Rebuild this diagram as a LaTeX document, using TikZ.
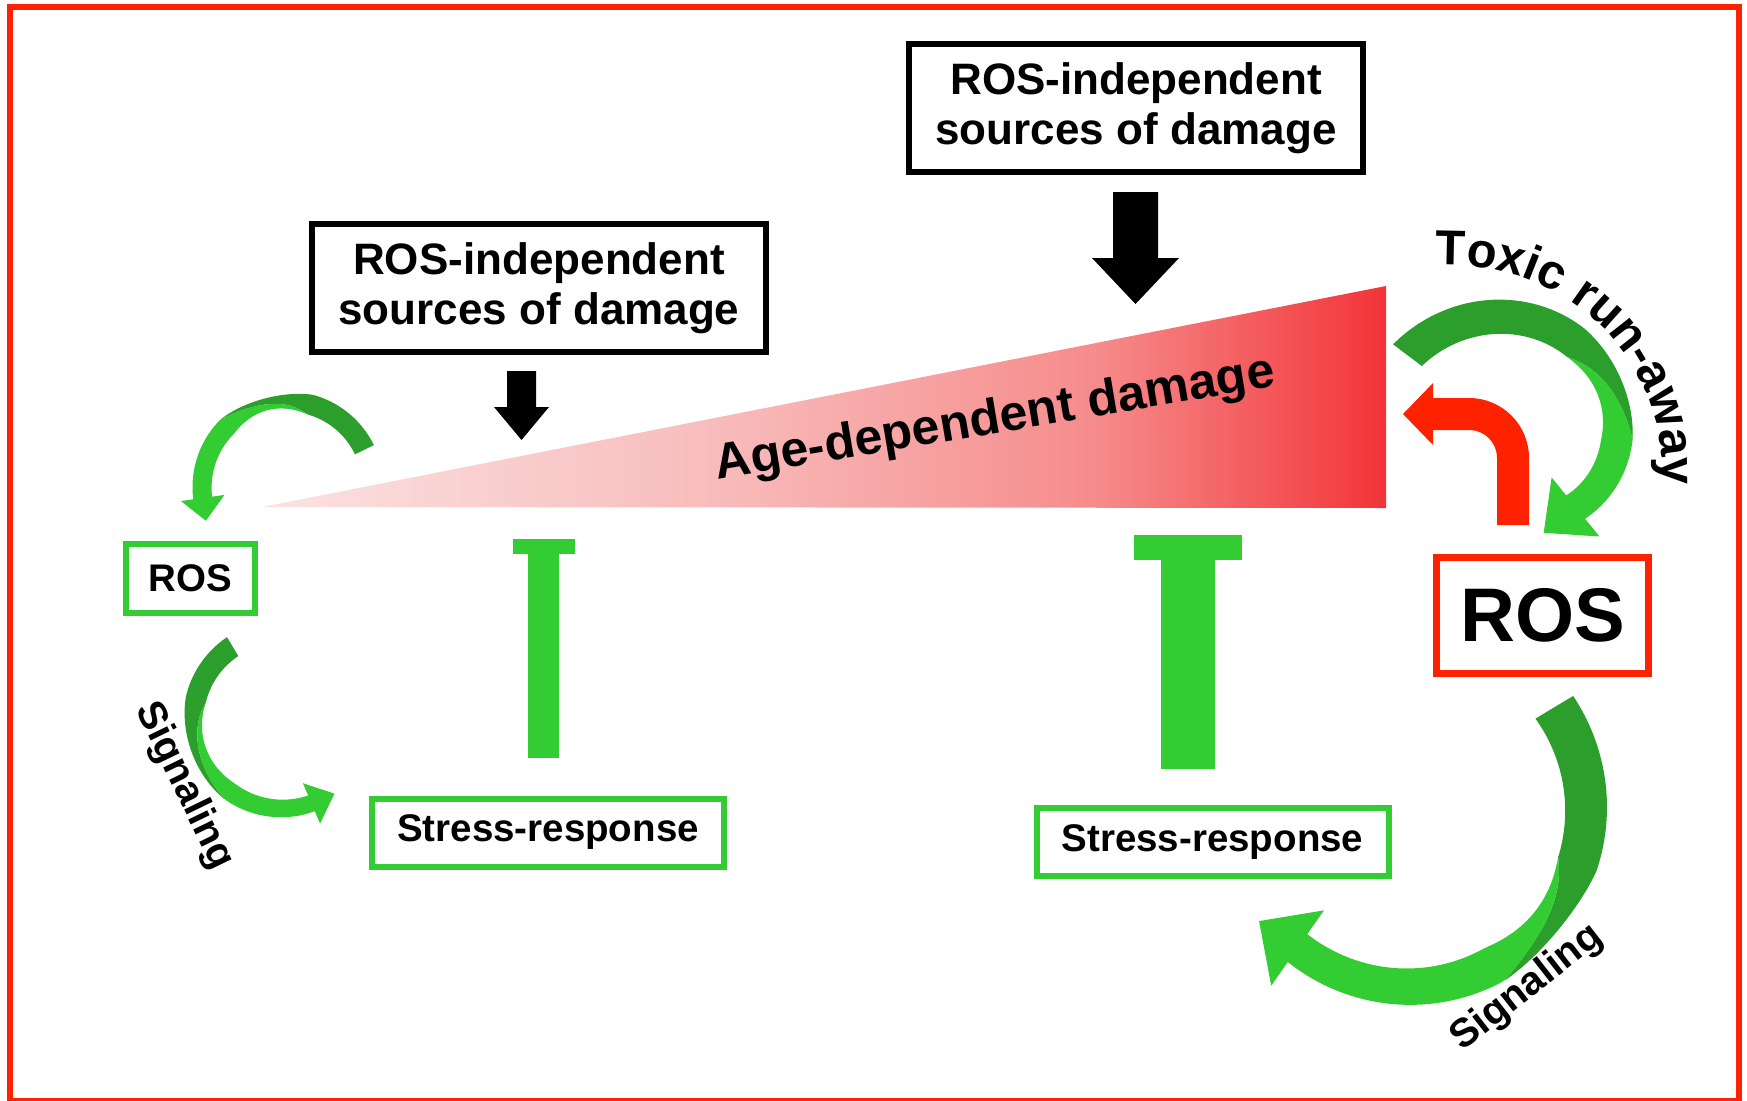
\documentclass[tikz,border=0pt]{standalone}
\usepackage{fontspec}
\setmainfont{Liberation Sans}
\usetikzlibrary{calc,decorations.text}
\definecolor{framered}{RGB}{255,34,0}
\definecolor{lg}{RGB}{51,204,51}
\definecolor{dg}{RGB}{44,158,44}
\definecolor{agepa}{RGB}{251,226,226}
\definecolor{agepb}{RGB}{248,188,188}
\definecolor{agepc}{RGB}{246,140,140}
\definecolor{agepd}{RGB}{242,52,56}
\pgfdeclarehorizontalshading{agegrad}{100bp}{color(0bp)=(agepa); color(25bp)=(agepa); color(45bp)=(agepb); color(62bp)=(agepc); color(75bp)=(agepd); color(100bp)=(agepd)}

\pgfkeys{/rib/.is family}
\pgfkeys{/rib/cx/.store in=\ribcx, /rib/cy/.store in=\ribcy,
  /rib/a1/.store in=\ribaa, /rib/a2/.store in=\ribab,
  /rib/r1/.store in=\ribra, /rib/r2/.store in=\ribrb,
  /rib/w1/.store in=\ribwa, /rib/w2/.store in=\ribwb,
  /rib/ta/.store in=\ribta, /rib/tb/.store in=\ribtb,
  /rib/pinch/.store in=\ribpinch, /rib/bulge/.store in=\ribbulge,
  /rib/hw/.store in=\ribhw, /rib/hl/.store in=\ribhl}

\tikzset{declare function={
 ribu(\q)=(\q-\ribaa)/(\ribab-\ribaa);
 ribs(\q)=max(0,min(1,(\q-\ribta)/(\ribtb-\ribta)));
 ribr(\q)=\ribra+(\ribrb-\ribra)*ribu(\q)+\ribbulge*sin(180*ribu(\q));
 ribw(\q)=(\ribwa+(\ribwb-\ribwa)*ribu(\q))*(1-\ribpinch*sin(180*ribs(\q)));
 ribo(\q)=ribr(\q)+ribw(\q)/2;
 ribi(\q)=ribr(\q)-ribw(\q)/2;
 ribd(\q)=ribi(\q)+ribw(\q)*ribs(\q);
}}

\newcommand\ribbon[1]{%
  \pgfqkeys{/rib}{pinch=0,bulge=0,#1}%
  \fill[dg] plot[domain=\ribaa:\ribtb,samples=60,variable=\q] ({\ribcx+ribo(\q)*cos(\q)},{\ribcy-ribo(\q)*sin(\q)})
    -- plot[domain=\ribtb:\ribaa,samples=60,variable=\q] ({\ribcx+ribd(\q)*cos(\q)},{\ribcy-ribd(\q)*sin(\q)}) -- cycle;
  \fill[lg] plot[domain=\ribta:\ribab,samples=60,variable=\q] ({\ribcx+ribd(\q)*cos(\q)},{\ribcy-ribd(\q)*sin(\q)})
    -- plot[domain=\ribab:\ribta,samples=60,variable=\q] ({\ribcx+ribi(\q)*cos(\q)},{\ribcy-ribi(\q)*sin(\q)}) -- cycle;
  \pgfmathsetmacro\ribsg{\ribab>\ribaa?1:-1}%
  \pgfmathsetmacro\ribpx{\ribcx+\ribrb*cos(\ribab)}%
  \pgfmathsetmacro\ribpy{\ribcy-\ribrb*sin(\ribab)}%
  \pgfmathsetmacro\ribtx{-(\ribsg)*sin(\ribab)}%
  \pgfmathsetmacro\ribty{-(\ribsg)*cos(\ribab)}%
  \pgfmathsetmacro\ribnx{cos(\ribab)}%
  \pgfmathsetmacro\ribny{-sin(\ribab)}%
  \fill[lg] ({\ribpx-(\ribtx)+\ribhw/2*(\ribnx)},{\ribpy-(\ribty)+\ribhw/2*(\ribny)})
    -- ({\ribpx+\ribhl*(\ribtx)},{\ribpy+\ribhl*(\ribty)})
    -- ({\ribpx-(\ribtx)-\ribhw/2*(\ribnx)},{\ribpy-(\ribty)-\ribhw/2*(\ribny)}) -- cycle;
}

\begin{document}
\begin{tikzpicture}[x=1pt,y=-1pt,
  srcbox/.style={draw=black, line width=6pt, minimum width=454pt, minimum height=128pt, inner sep=0pt, align=center, font=\bfseries\fontsize{44}{50}\selectfont},
  greenbox/.style={draw=lg, line width=6pt, inner sep=0pt, font=\bfseries\fontsize{38.5}{44}\selectfont},
  stressbox/.style={greenbox, minimum width=352pt, minimum height=68pt},
  siglabel/.style={font=\bfseries\fontsize{40}{44}\selectfont, inner sep=0pt},
  curvetext/.style={decorate, decoration={text along path, text align=center, text={#1}}}]
\useasboundingbox (0,0) rectangle (1747,1100);
% frame
\draw[framered, line width=6pt] (10,7) rectangle (1739,1101);

% triangle of age-dependent damage
\shade[shading=agegrad] (262,507) -- (1386,286) -- (1386,508) -- cycle;
\node[font=\bfseries\fontsize{50}{60}\selectfont, rotate=9.5, anchor=base, inner sep=0pt] (agetxt) at (997,433) {Age-dependent damage};

% source boxes
\node[srcbox] (srcL) at (539,288) {ROS-independent\\sources of damage};
\node[srcbox] (srcR) at (1136,108) {ROS-independent\\sources of damage};

% black block arrows
\fill (1113,192) -- (1158,192) -- (1158,258) -- (1179,258) -- (1135.5,304) -- (1092,258) -- (1113,258) -- cycle;
\fill (507,371) -- (536,371) -- (536,407) -- (549,407) -- (521.5,440) -- (494,407) -- (507,407) -- cycle;

% inhibition bars
\fill[lg] (528,552) rectangle (559,758);
\fill[lg] (513,539) rectangle (575,554);
\fill[lg] (1161,558) rectangle (1215,769);
\fill[lg] (1134,535) rectangle (1242,560);

% boxes
\node[greenbox, minimum width=129pt, minimum height=69pt] (rosL) at (190.5,578.5) {ROS};
\node[stressbox] (stressL) at (548,832.5) {Stress-response};
\node[stressbox] (stressR) at (1212.5,842) {Stress-response};
\node[draw=framered, line width=7pt, minimum width=212pt, minimum height=116pt, inner sep=0pt, font=\bfseries\fontsize{76}{80}\selectfont] (rosR) at (1542.5,615.5) {ROS};

% red bent arrow
\draw[framered, line width=32pt, rounded corners=44pt] (1513,525) -- (1513,414) -- (1432,414);
\fill[framered] (1433,383) -- (1403,414) -- (1433,445) -- cycle;

% curved green arrows
\ribbon{cx=288,cy=487,a1=26,a2=188,r1=85,r2=86,w1=21,w2=19,ta=75,tb=135,pinch=0.4,hw=44,hl=22}
\ribbon{cx=278,cy=722,a1=121,a2=293,r1=88,r2=88,w1=22,w2=17,ta=165,tb=235,pinch=0.25,bulge=-4,hw=44,hl=24}
\ribbon{cx=1520,cy=440,a1=143,a2=-51,r1=141,r2=87,w1=36,w2=30,ta=60,tb=0,pinch=0.15,bulge=-6,hw=76,hl=40}
\ribbon{cx=1400,cy=800,a1=31,a2=-125,r1=180,r2=180,w1=44,w2=34,ta=-20,tb=-60,pinch=0.25,bulge=10,hw=92,hl=46}

% labels
\path[curvetext={|\bfseries\fontsize{49}{50}\selectfont|Toxic run-away}]
  plot[domain=113:-19,samples=40,variable=\q] ({1460+(218-19*(113-\q)/132)*cos(\q)},{480-(218-19*(113-\q)/132)*sin(\q)});
\node[siglabel, rotate=-64] (sigL) at (184,786) {Signaling};
\node[siglabel, rotate=38] (sigR) at (1527,988) {Signaling};
\end{tikzpicture}
\end{document}
